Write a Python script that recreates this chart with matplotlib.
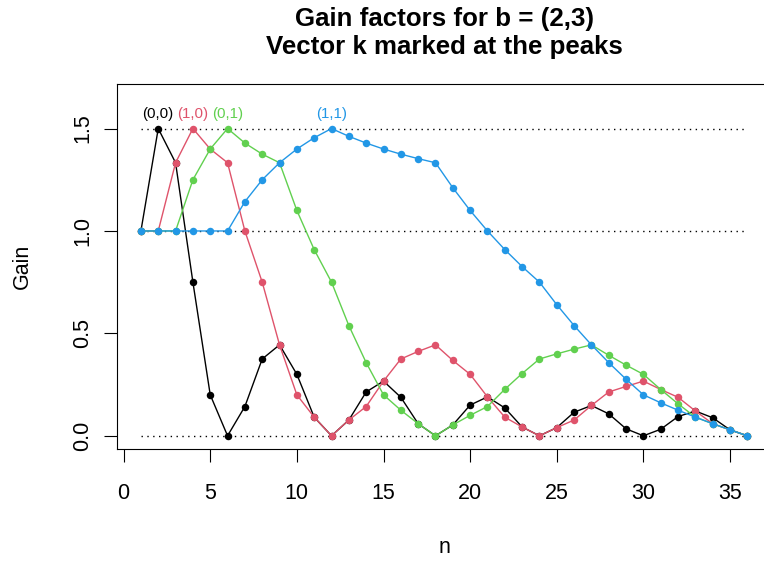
import numpy as np
from matplotlib import pyplot as plt

plt.rcParams["font.family"] = ["Liberation Sans", "DejaVu Sans"]

# Gain factors per n for the four k vectors
n = np.arange(1, 37)
gain_00 = [1.0, 1.5, 1.333, 0.75, 0.2, 0.0, 0.143, 0.375, 0.444, 0.3, 0.091, 0.0,
           0.077, 0.214, 0.267, 0.188, 0.059, 0.0, 0.053, 0.15, 0.19, 0.136, 0.043, 0.0,
           0.04, 0.115, 0.148, 0.107, 0.034, 0.0, 0.032, 0.094, 0.121, 0.088, 0.029, 0.0]
gain_10 = [1.0, 1.0, 1.333, 1.5, 1.4, 1.333, 1.0, 0.75, 0.444, 0.2, 0.091, 0.0,
           0.077, 0.143, 0.267, 0.375, 0.412, 0.444, 0.368, 0.3, 0.19, 0.091, 0.043, 0.0,
           0.04, 0.077, 0.148, 0.214, 0.241, 0.267, 0.226, 0.188, 0.121, 0.059, 0.029, 0.0]
gain_01 = [1.0, 1.0, 1.0, 1.25, 1.4, 1.5, 1.429, 1.375, 1.333, 1.1, 0.909, 0.75,
           0.538, 0.357, 0.2, 0.125, 0.059, 0.0, 0.053, 0.1, 0.143, 0.227, 0.304, 0.375,
           0.4, 0.423, 0.444, 0.393, 0.345, 0.3, 0.226, 0.156, 0.091, 0.059, 0.029, 0.0]
gain_11 = [1.0, 1.0, 1.0, 1.0, 1.0, 1.0, 1.143, 1.25, 1.333, 1.4, 1.455, 1.5,
           1.462, 1.429, 1.4, 1.375, 1.353, 1.333, 1.211, 1.1, 1.0, 0.909, 0.826, 0.75,
           0.64, 0.538, 0.444, 0.357, 0.276, 0.2, 0.161, 0.125, 0.091, 0.059, 0.029, 0.0]
labels = ["(0,0)", "(1,0)", "(0,1)", "(1,1)"]
colors = ["#000000", "#DF536B", "#61D04F", "#2297E6"]
ref_levels = [0.0, 1.0, 1.5]

fig = plt.figure(figsize=(7.64, 5.62), dpi=100)
ax = fig.add_axes([0.1527, 0.2005, 0.8573, 0.6495])

for lev in ref_levels:
    ax.plot([n[0], n[-1]], [lev, lev], color="black", lw=1.0,
            linestyle=(0, (1, 3.2)), zorder=1)

for series, col, lab in zip([gain_00, gain_10, gain_01, gain_11], colors, labels):
    ax.plot(n, series, color=col, lw=1.0, marker="o", markersize=5.4,
            markeredgewidth=0, zorder=2)
    i = int(np.argmax(series))
    ax.annotate(lab, (n[i], series[i]), xytext=(0, 7.6), textcoords="offset points",
                ha="center", va="baseline", color=col, fontsize=10.8)

ax.set_xlim(-0.4, 37.4)
ax.set_ylim(-0.066, 1.716)
ax.set_xticks(range(0, 36, 5))
ax.set_yticks([0, 0.5, 1.0, 1.5])
ax.set_yticklabels(["0.0", "0.5", "1.0", "1.5"])
ax.tick_params(length=9.1, width=0.8, labelsize=15.5, direction="out")
ax.tick_params(axis="x", pad=15)
ax.tick_params(axis="y", pad=8, labelrotation=90)
for lbl in ax.get_yticklabels():
    lbl.set_va("center")
for sp in ax.spines.values():
    sp.set_linewidth(0.8)

fig.text(444.2 / 764, 1 - 33 / 562, "Gain factors for b = (2,3)\nVector k marked at the peaks",
         ha="center", va="center", fontsize=18.6, fontweight="bold", linespacing=1.2)
fig.text(28.3 / 764, 1 - 266.8 / 562, "Gain", rotation=90, rotation_mode="anchor",
         ha="center", va="baseline", fontsize=15.5)
fig.text(444.2 / 764, 1 - 553 / 562, "n", ha="center", va="baseline", fontsize=15.5)

fig.savefig("out.png", dpi=100)
